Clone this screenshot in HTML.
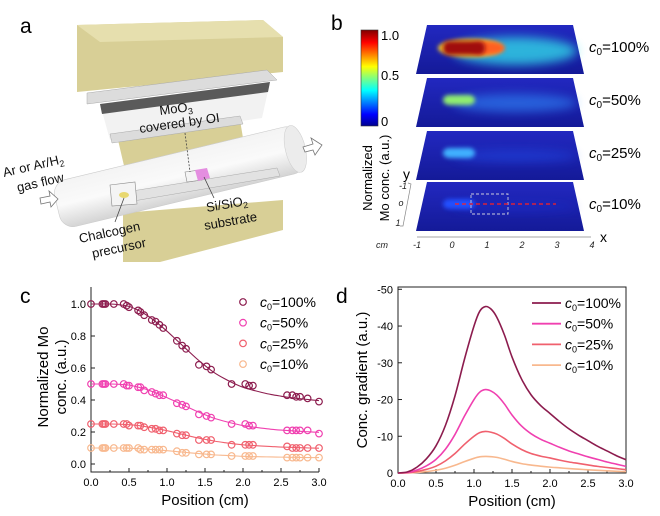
<!DOCTYPE html>
<html><head><meta charset="utf-8"><style>
html,body{margin:0;padding:0;background:#fff}
svg{display:block;font-family:"Liberation Sans",Arial,sans-serif}
</style></head><body>
<svg id="fig" width="660" height="516" viewBox="0 0 660 516" xmlns="http://www.w3.org/2000/svg">
<defs>
<linearGradient id="jet" x1="0" y1="1" x2="0" y2="0">
<stop offset="0" stop-color="#00008f"/><stop offset="0.12" stop-color="#0000ff"/><stop offset="0.37" stop-color="#00ffff"/><stop offset="0.5" stop-color="#80ff80"/><stop offset="0.62" stop-color="#ffff00"/><stop offset="0.87" stop-color="#ff0000"/><stop offset="1" stop-color="#800000"/></linearGradient>
<linearGradient id="tubeG" x1="0" y1="0" x2="0" y2="1"><stop offset="0" stop-color="#f4f4f4"/><stop offset="0.5" stop-color="#fafafa"/><stop offset="1" stop-color="#d4d4d4"/></linearGradient>
<linearGradient id="slabG" x1="0" y1="0" x2="0" y2="1"><stop offset="0" stop-color="#2228c0"/><stop offset="1" stop-color="#141a98"/></linearGradient>
<filter id="bl" x="-30%" y="-60%" width="160%" height="220%"><feGaussianBlur stdDeviation="2"/></filter>
<filter id="bl2" x="-30%" y="-60%" width="160%" height="220%"><feGaussianBlur stdDeviation="5"/></filter>
</defs>

<!-- Panel a -->
<g>
<text x="20" y="33" font-size="21">a</text>
<polygon points="77,25 263,20 283,37 283,72 77,92" fill="#d8cf96"/>
<polygon points="77,25 263,20 283,37 100,42" fill="#e6dfae"/>
<polygon points="87,93 267,70 277,80 87,104" fill="#dcdcdc" stroke="#aaa" stroke-width="0.5"/>
<polygon points="100,104 270,82 262,118 110,140" fill="#f2f2f2"/>
<polygon points="100,104 270,82 268,92 102,114" fill="#333" opacity="0.8"/>
<polygon points="118,140 240,120 245,150 125,170" fill="#d8cf96"/>
<polygon points="110,134 240,116 243,124 112,143" fill="#dcdcdc" stroke="#aaa" stroke-width="0.5"/>
<polygon points="123,213 283,200 283,230 160,262 123,262" fill="#d8cf96"/>
<g transform="translate(62,205) rotate(-13.5)">
<rect x="-5" y="-24" width="252" height="48" rx="14" fill="url(#tubeG)" stroke="#ccc" stroke-width="0.6"/>
<ellipse cx="240" cy="0" rx="10" ry="24" fill="#ececec" stroke="#ccc" stroke-width="0.5"/>
</g>
<polygon points="113,194 277,168 280,176 116,204" fill="#e2e2e2" stroke="#aaa" stroke-width="0.5"/>
<polygon points="110,185 135,182 137,204 112,206" fill="#f4f4f4" stroke="#888" stroke-width="0.6"/>
<ellipse cx="124" cy="195" rx="5" ry="3" fill="#e8d870"/>
<polygon points="185,172 200,170 202,180 187,182" fill="#f4f4f4" stroke="#888" stroke-width="0.6"/>
<polygon points="195,170 207,168 210,178 198,181" fill="#e48ee0"/>
<line x1="185" y1="133" x2="190" y2="172" stroke="#444" stroke-width="0.8" stroke-dasharray="2,1.5"/>
<line x1="124" y1="198" x2="115" y2="222" stroke="#444" stroke-width="0.8"/>
<line x1="204" y1="177" x2="214" y2="198" stroke="#444" stroke-width="0.8"/>
<polygon points="40,198 50,196 49,191 58,199 51,207 50,202 41,204" fill="#fff" stroke="#777" stroke-width="0.8"/>
<polygon points="303,147 313,144 311,138 322,145 315,155 313,150 305,152" fill="#fff" stroke="#777" stroke-width="0.8"/>
<g font-size="13" fill="#111">
<text transform="translate(160,115) rotate(-7)">MoO<tspan font-size="9" dy="3">3</tspan></text>
<text transform="translate(140,133) rotate(-8)">covered by OI</text>
<text transform="translate(4,177) rotate(-13)">Ar or Ar/H<tspan font-size="9" dy="3">2</tspan></text>
<text transform="translate(18,192) rotate(-13)">gas flow</text>
<text transform="translate(80,243) rotate(-12)">Chalcogen</text>
<text transform="translate(93,258) rotate(-12)">precursor</text>
<text transform="translate(207,212) rotate(-10)">Si/SiO<tspan font-size="9" dy="3">2</tspan></text>
<text transform="translate(205,230) rotate(-10)">substrate</text>
</g>
</g>

<!-- Panel b -->
<g>
<text x="331" y="30" font-size="21">b</text>
<rect x="361" y="30" width="17" height="96" fill="url(#jet)" stroke="#333" stroke-width="0.6"/>
<g font-size="13"><text x="381" y="40">1.0</text><text x="381" y="80">0.5</text><text x="381" y="126">0</text></g>
<text transform="translate(372,178) rotate(-90)" font-size="13" text-anchor="middle"><tspan x="0" dy="0">Normalized</tspan><tspan x="0" dy="17">Mo conc. (a.u.)</tspan></text>
<g id="slabs"></g>
<line x1="417" y1="237" x2="591" y2="237" stroke="#888" stroke-width="0.8"/>
<g font-size="9" font-style="italic" fill="#222" text-anchor="middle">
<text x="417" y="248">-1</text><text x="452" y="248">0</text><text x="487" y="248">1</text><text x="522" y="248">2</text><text x="557" y="248">3</text><text x="592" y="248">4</text>
<text x="382" y="248">cm</text>
<text x="403" y="189">-1</text><text x="401" y="206">o</text><text x="398" y="226">1</text>
</g>
<polyline points="408,183 411,184 403,226 400,226" fill="none" stroke="#888" stroke-width="0.7"/>
<text x="600" y="242" font-size="14">x</text>
<text x="403" y="179" font-size="14">y</text>
<g font-size="15">
<text x="589" y="52"><tspan font-style="italic">c</tspan><tspan font-size="10" dy="3">0</tspan><tspan dy="-3">=100%</tspan></text>
<text x="589" y="105"><tspan font-style="italic">c</tspan><tspan font-size="10" dy="3">0</tspan><tspan dy="-3">=50%</tspan></text>
<text x="589" y="158"><tspan font-style="italic">c</tspan><tspan font-size="10" dy="3">0</tspan><tspan dy="-3">=25%</tspan></text>
<text x="589" y="209"><tspan font-style="italic">c</tspan><tspan font-size="10" dy="3">0</tspan><tspan dy="-3">=10%</tspan></text>
</g>
</g>

<!-- Panel c & d -->
<text x="20" y="303" font-size="21">c</text>
<text x="336" y="303" font-size="21">d</text>
<g id="chartC"></g>
<g id="chartD"></g>
</svg>
<script>
const NS="http://www.w3.org/2000/svg";
function mk(parent,tag,attrs,txt){const e=document.createElementNS(NS,tag);for(const k in attrs)e.setAttribute(k,attrs[k]);if(txt!==undefined)e.textContent=txt;parent.appendChild(e);return e;}

// ---- slabs for panel b ----
const slabLevels=[1.0,0.5,0.25,0.1];
const slabTops=[25,78,131,182];
const slabG=document.getElementById('slabs');
const blobColors=['#a01010','#90ee70','#40b0ff','#2050ff'];
const tailColors=['#30d8e8','#3090ff','#2050f0','#1a30d8'];
slabLevels.forEach((lv,i)=>{
  const t=slabTops[i], b=t+49;
  const g=mk(slabG,'g',{});
  
  
  mk(g,'polygon',{points:`427,${t} 573,${t} 584,${b} 416,${b}`,fill:'url(#slabG)'});
  const cy=t+(i==0?23:22);
  mk(g,'ellipse',{cx:515,cy:cy+3,rx:62,ry:10*lv+4,fill:tailColors[i],opacity:0.35+0.45*lv,filter:'url(#bl2)'});
  if(i==0){mk(g,'ellipse',{cx:470,cy:cy,rx:32,ry:9,fill:'#ffd020',filter:'url(#bl)'});mk(g,'ellipse',{cx:487,cy:cy,rx:18,ry:7,fill:'#ff6020',filter:'url(#bl)'});}
  mk(g,'rect',{x:443,y:cy-(i==0?7:5),width:i==0?42:32,height:i==0?14:10,rx:6,fill:blobColors[i],filter:'url(#bl)'});
});
mk(slabG,'rect',{x:471,y:194,width:37,height:20,fill:'none',stroke:'#ccd','stroke-width':0.9,'stroke-dasharray':'3,2'});
mk(slabG,'line',{x1:455,y1:204,x2:556,y2:204,stroke:'#ff2020','stroke-width':1.3,'stroke-dasharray':'4,3'});

// ---- chart c data ----
const series=['c0=100%','c0=50%','c0=25%','c0=10%'];
const colors=['#8c1c4e','#f040b0','#f0606e','#f8b88e'];
const fitX=[0,0.125,0.25,0.375,0.5,0.625,0.75,0.875,1.0,1.125,1.25,1.375,1.5,1.625,1.75,1.875,2.0,2.125,2.25,2.375,2.5,2.625,2.75,2.875,3.0];
const fit100=[1.0,1.0,1.0,0.995,0.985,0.96,0.925,0.88,0.83,0.775,0.72,0.665,0.615,0.57,0.535,0.505,0.48,0.462,0.447,0.434,0.424,0.415,0.408,0.402,0.396];
const fit50=[0.5,0.5,0.5,0.498,0.493,0.48,0.463,0.44,0.415,0.388,0.36,0.333,0.308,0.285,0.268,0.253,0.24,0.231,0.224,0.217,0.212,0.208,0.204,0.201,0.198];
const fit25=[0.25,0.25,0.25,0.249,0.246,0.24,0.231,0.22,0.208,0.194,0.18,0.166,0.154,0.143,0.134,0.126,0.12,0.116,0.112,0.109,0.106,0.104,0.102,0.1,0.099];
const fit10=[0.1,0.1,0.1,0.1,0.099,0.096,0.093,0.088,0.083,0.078,0.072,0.067,0.062,0.057,0.054,0.051,0.048,0.046,0.045,0.044,0.043,0.042,0.041,0.04,0.04];
const ptX=[0,0.15,0.17,0.19,0.3,0.43,0.47,0.5,0.62,0.65,0.7,0.8,0.85,0.9,0.95,1.13,1.2,1.25,1.42,1.52,1.58,1.85,2.03,2.08,2.13,2.58,2.65,2.7,2.75,2.85,3.0];
const pt100=[1.0,1.0,1.0,1.0,1.0,1.0,0.99,0.98,0.96,0.95,0.93,0.9,0.89,0.87,0.85,0.77,0.74,0.72,0.62,0.61,0.59,0.5,0.5,0.49,0.49,0.43,0.43,0.42,0.42,0.41,0.39];
const pt50=[0.5,0.5,0.5,0.5,0.5,0.5,0.49,0.49,0.48,0.48,0.46,0.45,0.44,0.43,0.43,0.38,0.37,0.36,0.31,0.3,0.29,0.25,0.25,0.24,0.24,0.21,0.21,0.21,0.21,0.21,0.19];
const pt25=[0.25,0.25,0.25,0.25,0.25,0.25,0.25,0.24,0.24,0.24,0.23,0.22,0.22,0.21,0.21,0.19,0.18,0.18,0.15,0.15,0.15,0.12,0.12,0.12,0.12,0.11,0.1,0.1,0.1,0.1,0.1];
const pt10=[0.1,0.1,0.1,0.1,0.1,0.1,0.1,0.1,0.1,0.09,0.09,0.09,0.09,0.09,0.09,0.08,0.07,0.07,0.06,0.06,0.06,0.05,0.05,0.05,0.05,0.04,0.04,0.04,0.04,0.04,0.04];
const cTicksY=['0.0','0.2','0.4','0.6','0.8','1.0'];
const xTicks=['0.0','0.5','1.0','1.5','2.0','2.5','3.0'];

// ---- chart d data ----
const gradX=[0,0.125,0.25,0.375,0.5,0.625,0.75,0.875,1.0,1.075,1.15,1.225,1.3,1.4,1.5,1.625,1.75,1.875,2.0,2.125,2.25,2.375,2.5,2.625,2.75,2.875,3.0];
const grad100=[0,0.3,1.6,3.9,7.4,13,21,31,40,44,45.3,44.6,42.4,37.6,31.6,25.6,21.3,18.4,16.2,14,12,10.3,8.8,7.3,6,4.7,3.6];
const grad50=[0,0.15,0.8,1.95,3.7,6.5,10.5,15.5,20,22,22.7,22.3,21.2,18.8,15.8,12.8,10.7,9.2,8.1,7,6,5.2,4.4,3.7,3,2.4,1.8];
const grad25=[0,0.08,0.4,1,1.85,3.3,5.3,7.8,10,11,11.3,11.1,10.6,9.4,7.9,6.4,5.3,4.6,4.1,3.5,3,2.6,2.2,1.8,1.5,1.2,0.9];
const grad10=[0,0.03,0.16,0.4,0.75,1.3,2.1,3.1,4,4.4,4.5,4.45,4.25,3.75,3.15,2.55,2.15,1.85,1.6,1.4,1.2,1.03,0.88,0.73,0.6,0.47,0.36];
const dTicksY=['0','-10','-20','-30','-40','-50'];

// axes
const cx=v=>91+v*(228/3), cy=v=>464-v*160;
const dx=v=>398+v*(228/3), dy=v=>473-v*(183.7/50);
function pathOf(xs,ys,fx,fy){
  const P=xs.map((x,i)=>[fx(x),fy(ys[i])]);
  let d='M'+P[0][0].toFixed(2)+','+P[0][1].toFixed(2);
  for(let i=0;i<P.length-1;i++){
    const p0=P[Math.max(0,i-1)],p1=P[i],p2=P[i+1],p3=P[Math.min(P.length-1,i+2)];
    const c1=[p1[0]+(p2[0]-p0[0])/6,p1[1]+(p2[1]-p0[1])/6];
    const c2=[p2[0]-(p3[0]-p1[0])/6,p2[1]-(p3[1]-p1[1])/6];
    d+='C'+c1[0].toFixed(2)+','+c1[1].toFixed(2)+' '+c2[0].toFixed(2)+','+c2[1].toFixed(2)+' '+p2[0].toFixed(2)+','+p2[1].toFixed(2);
  }
  return d;
}

function axes(g,x0,x1,yTop,yBot,fx,fy,yTicks,yVals,box){
  const ax=mk(g,'path',{d:box?`M${x0},${yTop}L${x0},${yBot}L${x1},${yBot}L${x1},${yTop}Z`:`M${x0},${yTop}L${x0},${yBot}L${x1},${yBot}`,fill:'none',stroke:'#222','stroke-width':1});
  
  xTicks.forEach((t,i)=>{const X=fx(i*0.5);mk(g,'line',{x1:X,y1:yBot,x2:X,y2:yBot-4,stroke:'#222'});
    if(i<6)mk(g,'line',{x1:fx(i*0.5+0.25),y1:yBot,x2:fx(i*0.5+0.25),y2:yBot-2,stroke:'#222'});
    const tl=mk(g,'text',{x:X,y:yBot+14,'font-size':11,'text-anchor':'middle'},t);
    });
  yTicks.forEach((t,i)=>{const Y=fy(yVals[i]);mk(g,'line',{x1:x0,y1:Y,x2:x0+4,y2:Y,stroke:'#222'});
    const tl=mk(g,'text',{x:x0-5,y:Y+4,'font-size':11,'text-anchor':'end'},t);
    });
  const xt=mk(g,'text',{x:(x0+x1)/2,y:yBot+33,'font-size':15,'text-anchor':'middle'},'Position (cm)');
  
}
function legendLabel(g,x,y,s){const t=mk(g,'text',{x:x,y:y+5,'font-size':14});
  mk(t,'tspan',{'font-style':'italic'},'c');mk(t,'tspan',{'font-size':9,dy:3},'0');mk(t,'tspan',{dy:-3},s.slice(2));
  }

// chart c
const gC=document.getElementById('chartC');
axes(gC,91,319,287,472,cx,cy,cTicksY,[0,0.2,0.4,0.6,0.8,1.0],false);
const yc=mk(gC,'text',{transform:'translate(48,377) rotate(-90)','font-size':15,'text-anchor':'middle'});
mk(yc,'tspan',{x:0,dy:0},'Normalized Mo');mk(yc,'tspan',{x:0,dy:18},'conc. (a.u.)');

const fits=[fit100,fit50,fit25,fit10], pts=[pt100,pt50,pt25,pt10];
for(let s=3;s>=0;s--){
  const p=mk(gC,'path',{d:pathOf(fitX,fits[s],cx,cy),fill:'none',stroke:colors[s],'stroke-width':1.1});
  
  ptX.forEach((x,i)=>{const c=mk(gC,'circle',{cx:cx(x),cy:cy(pts[s][i]),r:3.3,fill:'none',stroke:colors[s],'stroke-width':1.2});
    });
}
series.forEach((s,i)=>{const y=302+i*20.7;const c=mk(gC,'circle',{cx:243,cy:y,r:3.3,fill:'none',stroke:colors[i],'stroke-width':1.2});
  legendLabel(gC,260,y,s);});

// chart d
const gD=document.getElementById('chartD');
axes(gD,398,626,287,473,dx,dy,dTicksY,[0,10,20,30,40,50],true);
const yd=mk(gD,'text',{transform:'translate(367,380) rotate(-90)','font-size':15,'text-anchor':'middle'},'Conc. gradient (a.u.)');

const grads=[grad100,grad50,grad25,grad10];
for(let s=3;s>=0;s--){const p=mk(gD,'path',{d:pathOf(gradX,grads[s],dx,dy),fill:'none',stroke:colors[s],'stroke-width':1.6,'stroke-linejoin':'round'});
  }
series.forEach((s,i)=>{const y=303+i*20.7;const l=mk(gD,'line',{x1:532,y1:y,x2:561,y2:y,stroke:colors[i],'stroke-width':1.8});
  legendLabel(gD,565,y,s);});
</script>
</body></html>
